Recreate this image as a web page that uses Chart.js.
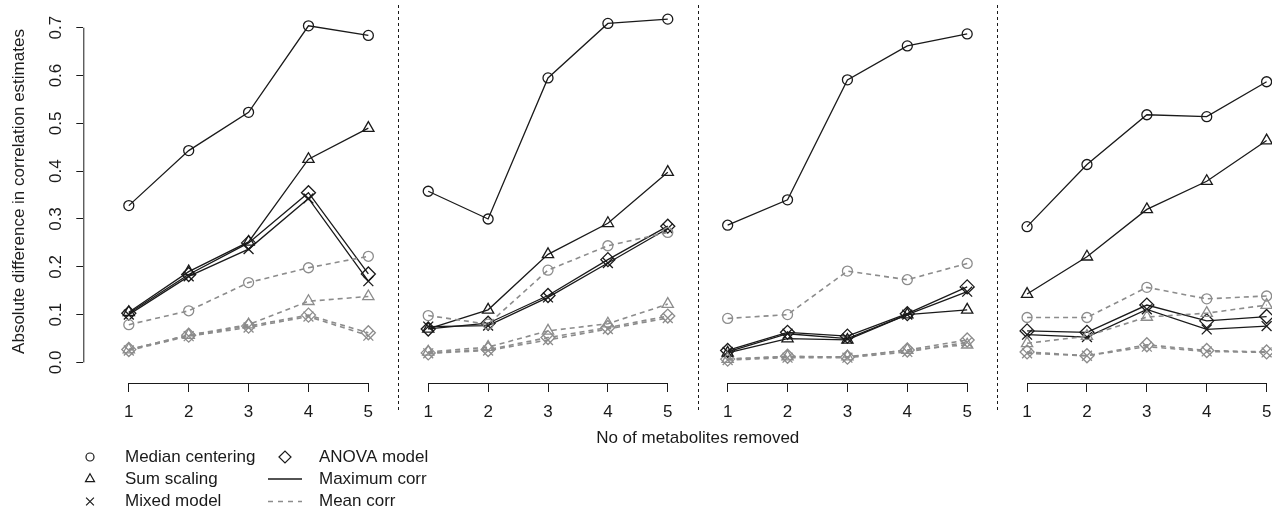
<!DOCTYPE html>
<html>
<head>
<meta charset="utf-8">
<script src="https://cdn.jsdelivr.net/npm/chart.js@4.4.1/dist/chart.umd.min.js"></script>
<style>
  html, body { margin: 0; padding: 0; background: #fff; }
  #chart { display: block; }
</style>
</head>
<body>
<canvas id="chart" width="1272" height="511"></canvas>
<script>
// x positions (no of metabolites removed) and y ticks
const categories = [1, 2, 3, 4, 5];
const yTicks = [0, 0.1, 0.2, 0.3, 0.4, 0.5, 0.6, 0.7];

// one row per panel, left to right
const medianMax = [
    [0.328, 0.443, 0.523, 0.704, 0.684],
    [0.358, 0.300, 0.595, 0.709, 0.718],
    [0.287, 0.340, 0.591, 0.662, 0.687],
    [0.284, 0.414, 0.518, 0.514, 0.587]
];
const sumMax = [
    [0.105, 0.190, 0.252, 0.425, 0.490],
    [0.070, 0.110, 0.226, 0.291, 0.398],
    [0.020, 0.050, 0.047, 0.100, 0.110],
    [0.143, 0.221, 0.320, 0.379, 0.464]
];
const mixedMax = [
    [0.100, 0.180, 0.237, 0.343, 0.170],
    [0.075, 0.077, 0.136, 0.208, 0.280],
    [0.022, 0.060, 0.050, 0.100, 0.148],
    [0.058, 0.053, 0.111, 0.069, 0.076]
];
const anovaMax = [
    [0.103, 0.184, 0.250, 0.355, 0.185],
    [0.070, 0.082, 0.140, 0.215, 0.285],
    [0.025, 0.063, 0.055, 0.102, 0.158],
    [0.066, 0.063, 0.120, 0.087, 0.096]
];
const medianMean = [
    [0.079, 0.108, 0.167, 0.198, 0.222],
    [0.098, 0.080, 0.193, 0.244, 0.272],
    [0.092, 0.100, 0.191, 0.173, 0.207],
    [0.094, 0.094, 0.157, 0.133, 0.139]
];
const sumMean = [
    [0.027, 0.057, 0.079, 0.128, 0.138],
    [0.022, 0.032, 0.066, 0.081, 0.122],
    [0.007, 0.012, 0.012, 0.026, 0.037],
    [0.040, 0.055, 0.095, 0.103, 0.120]
];
const mixedMean = [
    [0.025, 0.055, 0.073, 0.096, 0.056],
    [0.019, 0.025, 0.047, 0.070, 0.093],
    [0.005, 0.010, 0.010, 0.022, 0.042],
    [0.019, 0.014, 0.033, 0.023, 0.021]
];
const anovaMean = [
    [0.027, 0.057, 0.076, 0.099, 0.062],
    [0.020, 0.027, 0.052, 0.073, 0.097],
    [0.007, 0.013, 0.011, 0.026, 0.047],
    [0.022, 0.014, 0.037, 0.025, 0.022]
];

const FONT = '"Liberation Sans", Arial, Helvetica, sans-serif';
const INK = '#1a1a1a';
const GREY = '#8c8c8c';

const methods = [
    { label: 'Median centering', max: medianMax, mean: medianMean, style: 'circle', r: 5 },
    { label: 'Sum scaling', max: sumMax, mean: sumMean, style: 'triangle', r: 6.5 },
    { label: 'Mixed model', max: mixedMax, mean: mixedMean, style: 'crossRot', r: 7 },
    { label: 'ANOVA model', max: anovaMax, mean: anovaMean, style: 'rectRot', r: 7 }
];

// panel x ranges; widths follow from them so every panel has the same scale
const panelMin = [0.24, 0.5, 0.5, 0.5];
const panelMax = [5.5, 5.5, 5.5, 5.09];

const toPoints = vals => categories.map((c, i) => ({ x: c, y: vals[i] }));

const datasets = [];
panelMin.forEach((_, p) => {
    methods.forEach(m => {
        [['mean', GREY, [5, 4], 1.6], ['max', INK, [], 1.3]].forEach(([kind, color, dash, lw]) => {
            datasets.push({
                label: m.label + ' ' + kind,
                data: toPoints(m[kind][p]),
                xAxisID: 'x' + p,
                yAxisID: 'y',
                borderColor: color,
                borderWidth: lw,
                borderDash: dash,
                pointStyle: m.style,
                pointRadius: m.r,
                pointBorderColor: color,
                pointBorderWidth: 1.3,
                pointBackgroundColor: 'rgba(0,0,0,0)',
                tension: 0,
                clip: false
            });
        });
    });
});

const scales = {
    y: {
        type: 'linear',
        position: 'left',
        min: -0.043,
        max: 0.758,
        afterBuildTicks: s => { s.ticks = yTicks.map(v => ({ value: v })); },
        afterFit: s => { s.width = 83.3; s.paddingTop = 0; s.paddingBottom = 0; },
        ticks: { display: false },
        grid: { drawOnChartArea: false, drawTicks: true, tickLength: 7, color: INK, lineWidth: 1 },
        border: { display: false },
        title: {
            display: true,
            text: 'Absolute difference in correlation estimates',
            color: INK,
            font: { family: FONT, size: 17 },
            padding: { top: 9, bottom: 0 }
        }
    }
};
panelMin.forEach((mn, p) => {
    scales['x' + p] = {
        type: 'linear',
        position: 'bottom',
        stack: 'panels',
        stackWeight: panelMax[p] - mn,
        min: mn,
        max: panelMax[p],
        afterBuildTicks: s => { s.ticks = categories.map(v => ({ value: v })); },
        afterFit: s => { s.height = 128; s.paddingLeft = 0; s.paddingRight = 0; },
        // padding 0 keeps the edge label from shrinking the plot; the tall line height moves labels down
        ticks: { color: INK, font: { family: FONT, size: 17, lineHeight: 40 / 17 }, padding: 0, maxRotation: 0, autoSkip: false },
        grid: { drawOnChartArea: false, drawTicks: true, tickLength: 9, color: INK, lineWidth: 1 },
        border: { display: false }
    };
});

// R-style axis lines, rotated y labels, panel separators, x title and legend
const rDecorations = {
    id: 'rDecorations',
    afterDraw(chart) {
        const { ctx, chartArea } = chart;
        const y = chart.scales.y;
        const xs = panelMin.map((_, p) => chart.scales['x' + p]);
        ctx.save();
        ctx.strokeStyle = INK;
        ctx.fillStyle = INK;
        ctx.lineWidth = 1;

        // y axis line and labels
        ctx.beginPath();
        ctx.moveTo(chartArea.left + 0.5, y.getPixelForValue(yTicks[0]));
        ctx.lineTo(chartArea.left + 0.5, y.getPixelForValue(yTicks[yTicks.length - 1]));
        ctx.stroke();
        ctx.font = '17px ' + FONT;
        ctx.textAlign = 'center';
        ctx.textBaseline = 'middle';
        yTicks.forEach(v => {
            ctx.save();
            ctx.translate(56, y.getPixelForValue(v));
            ctx.rotate(-Math.PI / 2);
            ctx.fillText(v.toFixed(1), 0, 0);
            ctx.restore();
        });

        // x axis lines
        xs.forEach(s => {
            ctx.beginPath();
            ctx.moveTo(s.getPixelForValue(categories[0]), s.top + 0.5);
            ctx.lineTo(s.getPixelForValue(categories[categories.length - 1]), s.top + 0.5);
            ctx.stroke();
        });

        // dashed panel separators
        ctx.setLineDash([3, 3]);
        xs.slice(0, -1).forEach(s => {
            ctx.beginPath();
            ctx.moveTo(Math.round(s.right) + 0.5, 5);
            ctx.lineTo(Math.round(s.right) + 0.5, 412);
            ctx.stroke();
        });
        ctx.setLineDash([]);

        // x title
        const mid = (xs[0].getPixelForValue(1) + xs[xs.length - 1].getPixelForValue(5)) / 2;
        ctx.fillText('No of metabolites removed', mid, 438);

        // legend
        const rows = [457, 479, 501.5];
        ctx.textAlign = 'left';
        const sym = (style, r, x, yy) => {
            Chart.helpers.drawPoint(ctx, { pointStyle: style, radius: r, borderWidth: 1.2, rotation: 0 }, x, yy);
        };
        ctx.fillStyle = 'rgba(0,0,0,0)';
        ctx.lineWidth = 1.2;
        sym('circle', 4, 90, rows[0]);
        sym('triangle', 5.2, 90, rows[1]);
        sym('crossRot', 5.5, 90, rows[2]);
        sym('rectRot', 6, 285, rows[0]);
        ctx.lineWidth = 1.6;
        ctx.beginPath();
        ctx.moveTo(268, rows[1]);
        ctx.lineTo(302, rows[1]);
        ctx.stroke();
        ctx.strokeStyle = GREY;
        ctx.setLineDash([5, 5]);
        ctx.beginPath();
        ctx.moveTo(268, rows[2]);
        ctx.lineTo(302, rows[2]);
        ctx.stroke();
        ctx.setLineDash([]);
        ctx.fillStyle = INK;
        ctx.fillText('Median centering', 125, rows[0]);
        ctx.fillText('Sum scaling', 125, rows[1]);
        ctx.fillText('Mixed model', 125, rows[2]);
        ctx.fillText('ANOVA model', 319, rows[0]);
        ctx.fillText('Maximum corr', 319, rows[1]);
        ctx.fillText('Mean corr', 319, rows[2]);
        ctx.restore();
    }
};

new Chart(document.getElementById('chart'), {
    type: 'line',
    data: { datasets },
    options: {
        responsive: false,
        animation: false,
        events: [],
        layout: { padding: 0, autoPadding: false },
        scales,
        plugins: { legend: { display: false }, tooltip: { enabled: false } }
    },
    plugins: [rDecorations]
});
</script>
</body>
</html>
